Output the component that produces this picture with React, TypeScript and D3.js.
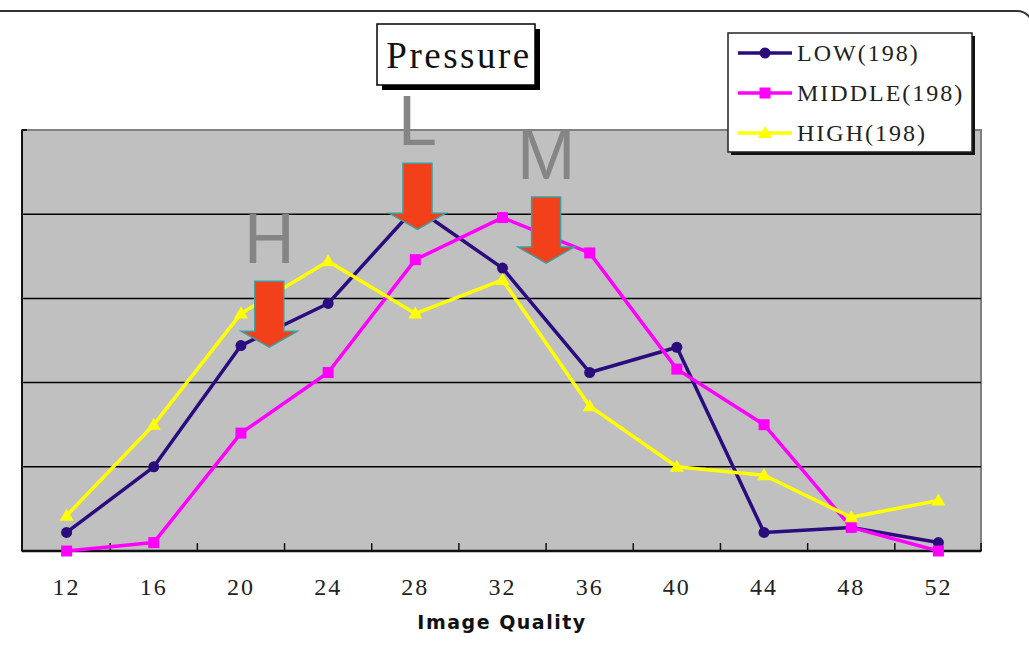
import React from "react";
import * as d3 from "d3";

// image quality categories on the x axis
const qualities = [12, 16, 20, 24, 28, 32, 36, 40, 44, 48, 52];

// share of samples (%) per pressure level
const lowValues = [1.1, 5.0, 12.2, 14.7, 20.4, 16.8, 10.6, 12.1, 1.1, 1.4, 0.5];
const middleValues = [0.0, 0.5, 7.0, 10.6, 17.3, 19.8, 17.7, 10.8, 7.5, 1.4, 0.0];
const highValues = [2.1, 7.5, 14.1, 17.2, 14.1, 16.1, 8.6, 5.0, 4.5, 2.0, 3.0];

const seriesNames = ["LOW(198)", "MIDDLE(198)", "HIGH(198)"];
const seriesColors = ["#2B0C7C", "#FF00FF", "#FFFF00"];
const seriesMarkers = ["circle", "square", "triangle"];

const gridValues = [5, 10, 15, 20];

// pressure annotations: letter, quality position, arrow tip value
const noteLabels = ["H", "L", "M"];
const noteQuality = [21.3, 28.1, 34.0];
const noteTip = [12.1, 19.1, 17.1];

const W = 1029;
const H = 670;
const plot = { left: 22, right: 981, top: 130, bottom: 551 };

function Marker({ kind, x, y, color }: { kind: string; x: number; y: number; color: string }) {
    if (kind === "circle") return <circle cx={x} cy={y} r={5.5} fill={color} />;
    if (kind === "square") return <rect x={x - 5.5} y={y - 5.5} width={11} height={11} fill={color} />;
    return <path d={`M${x},${y - 7}L${x + 7},${y + 5}L${x - 7},${y + 5}Z`} fill={color} />;
}

export default function App() {
    const x = d3.scaleBand<string>().domain(qualities.map(String)).range([plot.left + 1, plot.right + 1]);
    const bw = x.bandwidth();
    const cx = (q: number) => (x(String(q)) || 0) + bw / 2;
    const xq = d3.scaleLinear().domain([12, 52]).range([cx(12), cx(52)]);
    const y = d3.scaleLinear().domain([0, 25]).range([plot.bottom, plot.top]);

    const series = [lowValues, middleValues, highValues];
    const line = d3.line<number>().x((_, i) => cx(qualities[i])).y(d => y(d));

    const boundaries = qualities.map(q => x(String(q)) || 0).slice(1).concat([plot.right]);

    return (
        <svg width={W} height={H} style={{ position: "absolute", left: 0, top: 0, background: "#fff" }}>
            {/* outer frame, mostly cropped by the page edges */}
            <rect x={-16} y={11} width={W + 20} height={H + 8} rx={16} fill="none" stroke="#333" strokeWidth={2} />

            {/* plot area */}
            <rect x={plot.left} y={plot.top} width={plot.right - plot.left} height={plot.bottom - plot.top} fill="#C0C0C0" stroke="#808080" strokeWidth={2} />
            {gridValues.map(v => (
                <line key={v} x1={plot.left} x2={plot.right} y1={y(v)} y2={y(v)} stroke="#000" strokeWidth={1.5} />
            ))}
            <line x1={plot.left} x2={plot.left} y1={plot.top} y2={plot.bottom} stroke="#111" strokeWidth={2} />
            <line x1={plot.left} x2={plot.left + 5} y1={plot.top} y2={plot.top} stroke="#111" strokeWidth={2} />
            <line x1={plot.left} x2={plot.right} y1={plot.bottom} y2={plot.bottom} stroke="#111" strokeWidth={2.5} />
            {boundaries.map((b, i) => (
                <line key={i} x1={b} x2={b} y1={plot.bottom - 8} y2={plot.bottom} stroke="#111" strokeWidth={1.5} />
            ))}

            {/* big pressure letters */}
            {noteLabels.map((l, i) => (
                <text key={l} x={xq(noteQuality[i])} y={y(noteTip[i]) - 84} textAnchor="middle"
                    fontFamily="Liberation Sans, Arial, sans-serif" fontSize={70} fill="#858585">{l}</text>
            ))}

            {/* series */}
            {series.map((vals, s) => (
                <g key={s}>
                    <path d={line(vals) || ""} fill="none" stroke={seriesColors[s]} strokeWidth={3.5} strokeLinejoin="round" />
                    {vals.map((v, i) => (
                        <Marker key={i} kind={seriesMarkers[s]} x={cx(qualities[i])} y={y(v)} color={seriesColors[s]} />
                    ))}
                </g>
            ))}

            {/* arrows */}
            {noteLabels.map((l, i) => {
                const tx = xq(noteQuality[i]);
                const ty = y(noteTip[i]);
                const d = `M${tx - 14.5},${ty - 66}H${tx + 14.5}V${ty - 16}H${tx + 28}L${tx},${ty}L${tx - 28},${ty - 16}H${tx - 14.5}Z`;
                return <path key={l} d={d} fill="#F2401A" stroke="#3E9E9E" strokeWidth={1.5} />;
            })}

            {/* x tick labels */}
            {qualities.map(q => (
                <text key={q} x={cx(q)} y={595} textAnchor="middle" fontFamily="Liberation Serif, serif"
                    fontSize={24} letterSpacing={2} fill="#222">{q}</text>
            ))}
            <text x={502} y={629} textAnchor="middle" fontFamily="DejaVu Sans, sans-serif" fontWeight="bold"
                fontSize={19} letterSpacing={1.5} fill="#111">Image Quality</text>

            {/* Pressure box */}
            <rect x={382} y={29} width={158} height={61} fill="#000" />
            <rect x={377} y={24} width={158} height={61} fill="#fff" stroke="#000" strokeWidth={1.5} />
            <text x={459} y={68} textAnchor="middle" fontFamily="Liberation Serif, serif" fontSize={37} letterSpacing={2.5} fill="#111">Pressure</text>

            {/* legend */}
            <rect x={731} y={36} width={244} height={119} fill="#111" />
            <rect x={728} y={33} width={244} height={119} fill="#fff" stroke="#222" strokeWidth={1.5} />
            {seriesNames.map((n, i) => {
                const ly = 53 + i * 40;
                return (
                    <g key={n}>
                        <line x1={738} x2={792} y1={ly} y2={ly} stroke={seriesColors[i]} strokeWidth={3.5} />
                        <Marker kind={seriesMarkers[i]} x={765} y={ly} color={seriesColors[i]} />
                        <text x={797} y={ly + 8} fontFamily="Liberation Serif, serif" fontSize={24} letterSpacing={2} fill="#222">{n}</text>
                    </g>
                );
            })}
        </svg>
    );
}
